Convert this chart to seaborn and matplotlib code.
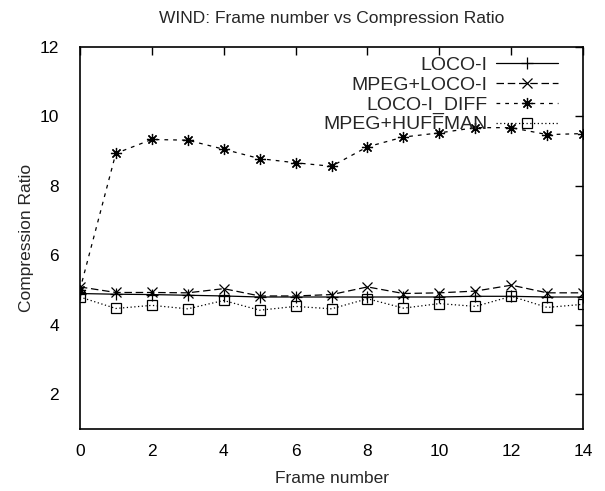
import numpy as np
import pandas as pd
import seaborn as sns
import matplotlib
matplotlib.use("Agg")
import matplotlib.pyplot as plt

# Data
frames = list(range(15))
loco_i = [4.90, 4.88, 4.87, 4.85, 4.83, 4.80, 4.80, 4.80, 4.80, 4.80, 4.80, 4.82, 4.82, 4.80, 4.80]
mpeg_loco_i = [5.09, 4.93, 4.93, 4.92, 5.04, 4.83, 4.83, 4.87, 5.09, 4.90, 4.92, 4.97, 5.14, 4.92, 4.92]
loco_i_diff = [5.00, 8.93, 9.33, 9.31, 9.05, 8.78, 8.66, 8.56, 9.12, 9.40, 9.52, 9.67, 9.67, 9.47, 9.50]
mpeg_huffman = [4.80, 4.47, 4.56, 4.46, 4.70, 4.42, 4.53, 4.46, 4.75, 4.48, 4.61, 4.53, 4.82, 4.50, 4.59]

series_names = ["LOCO-I", "MPEG+LOCO-I", "LOCO-I_DIFF", "MPEG+HUFFMAN"]
series_values = [loco_i, mpeg_loco_i, loco_i_diff, mpeg_huffman]

sns.set_style("white")
plt.rcParams["font.family"] = ["Liberation Sans", "DejaVu Sans"]
plt.rcParams["font.size"] = 12.5

styles = {
    "LOCO-I": dict(linestyle="-", marker="+", markersize=8, mfc="none"),
    "MPEG+LOCO-I": dict(linestyle=(0, (6, 3)), marker="x", markersize=7, mfc="none"),
    "LOCO-I_DIFF": dict(linestyle=(0, (3, 4)), marker=(8, 2, 0), markersize=8, mfc="none"),
    "MPEG+HUFFMAN": dict(linestyle=(0, (1, 2)), marker="s", markersize=7, mfc="none"),
}

fig = plt.figure(figsize=(6.05, 4.91), dpi=100)
ax = fig.add_axes([0.132, 0.126, 0.832, 0.779])

for name, vals in zip(series_names, series_values):
    df = pd.DataFrame({"frame": frames, "ratio": vals})
    sns.lineplot(data=df, x="frame", y="ratio", ax=ax, color="black",
                 linewidth=0.9, mec="black", mew=0.9, label=name, **styles[name])

ax.set_xlim(0, 14)
ax.set_ylim(1, 12)
ax.set_xticks(range(0, 15, 2))
ax.set_yticks(range(2, 13, 2))
ax.tick_params(direction="in", length=6, width=1, top=True, right=True,
               labelsize=12.5, colors="black")
ax.tick_params(axis="x", pad=11)
ax.tick_params(axis="y", pad=15)
for s in ax.spines.values():
    s.set_linewidth(1.2)
    s.set_color("black")

ax.set_title("WIND: Frame number vs Compression Ratio", fontsize=12.5, pad=17)
ax.set_xlabel("Frame number", fontsize=12.5, labelpad=8)
ax.set_ylabel("Compression Ratio", fontsize=12.5, labelpad=4)

ax.legend(loc="upper right", bbox_to_anchor=(0.966, 0.995), frameon=False,
          markerfirst=False, handlelength=3.2, labelspacing=0.11,
          handletextpad=0.45, borderaxespad=0, fontsize=14)

fig.savefig("out.png", dpi=100)
